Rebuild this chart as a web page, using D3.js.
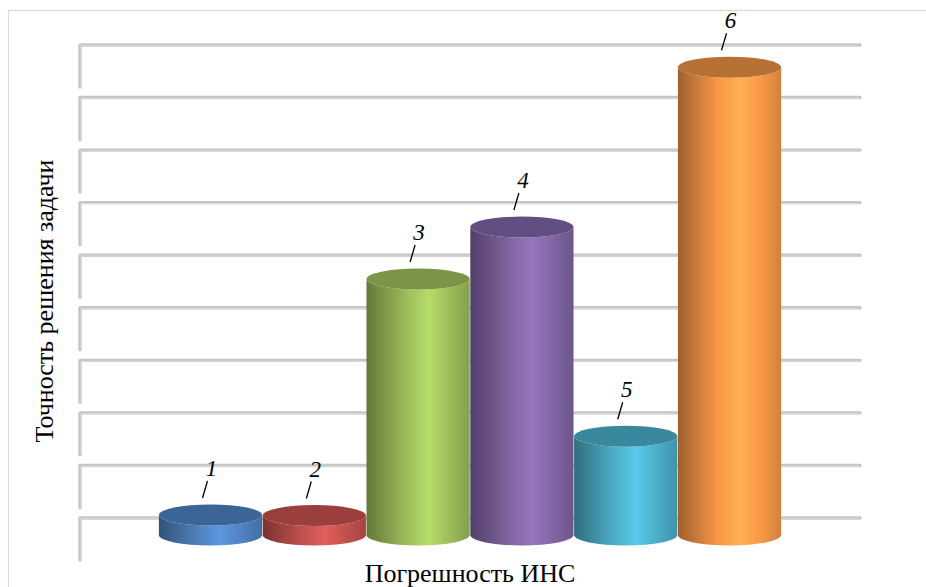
<!DOCTYPE html>
<html>
<head>
<meta charset="utf-8">
<script src="https://cdn.jsdelivr.net/npm/d3@7/dist/d3.min.js"></script>
<style>
  html, body { margin: 0; padding: 0; background: #ffffff; }
  svg { display: block; }
</style>
</head>
<body>
<svg id="chart" width="926" height="587"></svg>
<script>
// ---- data ----
const categories = ["1", "2", "3", "4", "5", "6"];
const values = [0.38, 0.37, 4.87, 5.86, 1.88, 8.9];
const colors = ["#4F81BD", "#C0504D", "#9BBB59", "#8064A2", "#4BACC6", "#F79646"];
const capColors = ["#3b6497", "#9b3f3c", "#7b9546", "#624e82", "#3a889d", "#b87134"];
const gridTicks = [0, 1, 2, 3, 4, 5, 6, 7, 8, 9];
const xTitle = "Погрешность ИНС";
const yTitle = "Точность решения задачи";

// ---- layout ----
const FONT = '"Liberation Serif"';
const svg = d3.select("#chart");
const left = 80, right = 860, depth = 42, half = 17, ry = 10.5;

const x = d3.scaleBand().domain(categories).range([left, right]).paddingInner(0).paddingOuter(0.757);
const y = d3.scaleLinear().domain([0, 9]).range([518, 45]);

// chart border
svg.append("rect").attr("x", 8.5).attr("y", 10.5).attr("width", 940).attr("height", 600)
  .attr("fill", "none").attr("stroke", "#d9d9d9").attr("stroke-width", 1.2);

// gridlines (back wall + side wall)
const grid = svg.append("g");
gridTicks.forEach(t => {
  const yy = y(t);
  const d = `M${right},${yy} L${left},${yy} L${left},${yy + depth}`;
  grid.append("path").attr("d", d).attr("fill", "none")
    .attr("stroke", "#c6c6c6").attr("stroke-width", 3.4)
    .attr("stroke-linecap", "round").attr("stroke-linejoin", "round");
  grid.append("path").attr("d", `M${right - 1},${yy + 0.9} L${left + 1},${yy + 0.9} L${left + 1},${yy + depth - 1}`)
    .attr("fill", "none").attr("stroke", "#dcdcdc").attr("stroke-width", 1);
});

// gradients
const defs = svg.append("defs");
colors.forEach((c, i) => {
  const base = d3.color(c);
  const g = defs.append("linearGradient").attr("id", "grad" + i)
    .attr("x1", "0%").attr("x2", "100%").attr("y1", "0%").attr("y2", "0%");
  const stops = [
    [0, base.darker(1.25)],
    [0.12, base.darker(0.8)],
    [0.38, base],
    [0.6, base.brighter(0.45)],
    [0.8, base.brighter(0.05)],
    [1, base.darker(0.45)]
  ];
  stops.forEach(([o, col]) => g.append("stop").attr("offset", o).attr("stop-color", col.formatHex()));
});

// cylinders
const bars = svg.append("g");
categories.forEach((cat, i) => {
  const bw = x.bandwidth();
  const rx = bw / 2 - 0.3;
  const cx = x(cat) + bw / 2;
  const yTop = y(values[i]) + half;
  const yBot = y(0) + half;
  const side = `M${cx - rx},${yTop} L${cx - rx},${yBot} A${rx},${ry} 0 0 0 ${cx + rx},${yBot} L${cx + rx},${yTop} A${rx},${ry} 0 0 1 ${cx - rx},${yTop} Z`;
  bars.append("path").attr("d", side).attr("fill", `url(#grad${i})`);
  bars.append("ellipse").attr("cx", cx).attr("cy", yTop).attr("rx", rx).attr("ry", ry)
    .attr("fill", capColors[i]);

  // label with leader line
  bars.append("line")
    .attr("x1", cx - 8).attr("y1", yTop - 17)
    .attr("x2", cx - 3).attr("y2", yTop - 34)
    .attr("stroke", "#000").attr("stroke-width", 1.3);
  bars.append("text")
    .attr("x", cx + 1).attr("y", yTop - 39)
    .attr("text-anchor", "middle")
    .style("font-family", FONT)
    .style("font-style", "italic")
    .style("font-size", "23px")
    .attr("fill", "#000")
    .text(cat);
});

// axis titles
svg.append("text")
  .attr("x", 470).attr("y", 582)
  .attr("text-anchor", "middle")
  .style("font-family", FONT)
  .style("font-size", "26px")
  .attr("fill", "#000")
  .text(xTitle);

svg.append("text")
  .attr("transform", "translate(53,301) rotate(-90)")
  .attr("text-anchor", "middle")
  .style("font-family", FONT)
  .style("font-size", "26px")
  .attr("fill", "#000")
  .text(yTitle);
</script>
</body>
</html>
